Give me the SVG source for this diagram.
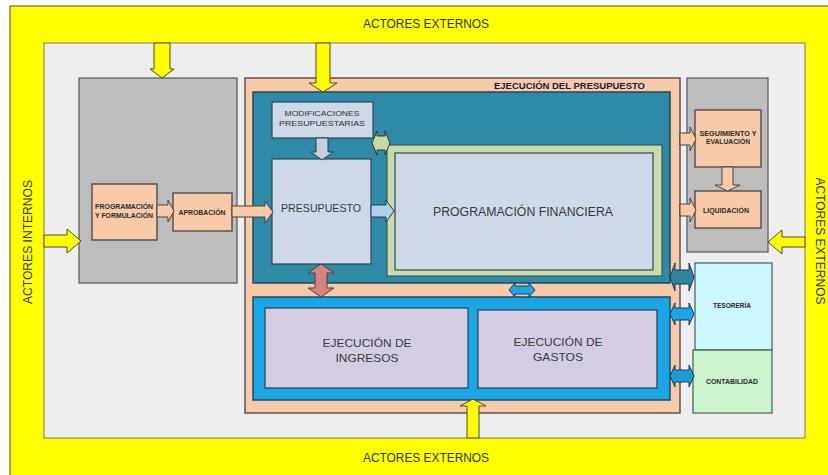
<svg xmlns="http://www.w3.org/2000/svg" width="828" height="475" viewBox="0 0 828 475">
  <style>
    text { font-family: "Liberation Sans", Arial, sans-serif; }
    .frame { fill: #ffff00; stroke: #6e6e2c; stroke-width: 1.2; }
    .field { fill: #eeeeee; stroke: #7a7a50; stroke-width: 1; }
    .panel { fill: #bdbdbd; stroke: #555555; stroke-width: 1.2; }
    .peach { fill: #f9caa8; stroke: #555555; stroke-width: 1.5; }
    .teal { fill: #2f8aa7; stroke: #1f4a5a; stroke-width: 1.5; }
    .light { fill: #ced8e6; stroke: #2a4a5a; stroke-width: 1.2; }
    .sage { fill: #cbdaa9; stroke: #3a5a50; stroke-width: 1.2; }
    .blue { fill: #1aa6e4; stroke: #1f4a6a; stroke-width: 1.5; }
    .lav { fill: #d4cde2; stroke: #2a3a5a; stroke-width: 1.2; }
    .box { fill: #f9caa8; stroke: #444444; stroke-width: 1.3; }
    .arr-y { fill: #ffff00; stroke: #4a4a2a; stroke-width: 1; }
    .arr-p { fill: #f9caa8; stroke: #444444; stroke-width: 1; }
    .lbl-big { font-size: 12px; fill: #3a3a3a; text-anchor: middle; }
    .lbl-mid { font-size: 11.5px; fill: #3a3a3a; text-anchor: middle; }
    .lbl-sm { font-size: 8px; fill: #333333; text-anchor: middle; }
    .lbl-xs { font-size: 6.5px; font-weight: bold; fill: #2a2a2a; text-anchor: middle; }
    .actor { font-size: 12px; fill: #333333; text-anchor: middle; }
  </style>

  <!-- background -->
  <rect x="0" y="0" width="828" height="475" fill="#ffffff"/>

  <!-- actors frame -->
  <g id="actores">
    <rect class="frame" x="10" y="6" width="830" height="480"/>
    <rect class="field" x="44" y="43" width="761" height="395"/>
    <text class="actor" x="426" y="28" textLength="126" lengthAdjust="spacingAndGlyphs">ACTORES EXTERNOS</text>
    <text class="actor" x="426" y="462" textLength="126" lengthAdjust="spacingAndGlyphs">ACTORES EXTERNOS</text>
    <text class="actor" transform="translate(31.5,242) rotate(-90)" textLength="124" lengthAdjust="spacingAndGlyphs">ACTORES INTERNOS</text>
    <text class="actor" transform="translate(816,241) rotate(90)" textLength="127" lengthAdjust="spacingAndGlyphs">ACTORES EXTERNOS</text>
  </g>

  <!-- left panel: programming and approval -->
  <g id="panel-izquierdo">
    <rect class="panel" x="79" y="78" width="158" height="205"/>
  </g>
  <g id="programacion-formulacion">
    <rect class="box" x="92" y="184" width="65" height="56"/>
    <text class="lbl-xs" x="124" y="208.5" textLength="58" lengthAdjust="spacingAndGlyphs">PROGRAMACIÓN</text>
    <text class="lbl-xs" x="124" y="217.5" textLength="58" lengthAdjust="spacingAndGlyphs">Y FORMULACIÓN</text>
  </g>
  <g id="aprobacion">
    <rect class="box" x="173" y="193" width="59" height="38"/>
    <text class="lbl-xs" x="202" y="214.5" textLength="47" lengthAdjust="spacingAndGlyphs">APROBACIÓN</text>
  </g>

  <!-- budget execution -->
  <g id="ejecucion-presupuesto">
    <rect class="peach" x="245" y="78" width="435" height="335"/>
    <text x="645" y="89" font-size="8.5" font-weight="bold" fill="#1c1c3c" text-anchor="end" textLength="151" lengthAdjust="spacingAndGlyphs">EJECUCIÓN DEL PRESUPUESTO</text>
  </g>
  <g id="planificacion">
    <rect class="teal" x="253" y="92" width="417" height="191"/>
  </g>
  <g id="modificaciones">
    <rect class="light" x="272" y="102" width="101" height="36"/>
    <text class="lbl-sm" x="322" y="116" textLength="75" lengthAdjust="spacingAndGlyphs">MODIFICACIONES</text>
    <text class="lbl-sm" x="322" y="126" textLength="86" lengthAdjust="spacingAndGlyphs">PRESUPUESTARIAS</text>
  </g>
  <g id="presupuesto">
    <rect class="light" x="272" y="159" width="99" height="105"/>
    <text class="lbl-mid" x="321" y="211.5" font-size="11" textLength="80" lengthAdjust="spacingAndGlyphs">PRESUPUESTO</text>
  </g>
  <g id="programacion-financiera">
    <rect class="sage" x="387" y="145" width="275" height="131"/>
    <rect class="light" x="395" y="153" width="258" height="117"/>
    <text class="lbl-big" x="523" y="216" textLength="180" lengthAdjust="spacingAndGlyphs">PROGRAMACIÓN FINANCIERA</text>
  </g>
  <g id="ejecucion">
    <rect class="blue" x="253" y="297" width="417" height="103"/>
  </g>
  <g id="ejecucion-ingresos">
    <rect class="lav" x="265" y="308" width="203" height="80"/>
    <text class="lbl-mid" x="367" y="347" textLength="89" lengthAdjust="spacingAndGlyphs">EJECUCIÓN DE</text>
    <text class="lbl-mid" x="367" y="362" textLength="63" lengthAdjust="spacingAndGlyphs">INGRESOS</text>
  </g>
  <g id="ejecucion-gastos">
    <rect class="lav" x="478" y="310" width="179" height="78"/>
    <text class="lbl-mid" x="558" y="346" textLength="89" lengthAdjust="spacingAndGlyphs">EJECUCIÓN DE</text>
    <text class="lbl-mid" x="558" y="361" textLength="50" lengthAdjust="spacingAndGlyphs">GASTOS</text>
  </g>

  <!-- right panel: control -->
  <g id="panel-derecho">
    <rect class="panel" x="687" y="78" width="81" height="174"/>
  </g>
  <g id="seguimiento">
    <rect class="box" x="695" y="110" width="66" height="57"/>
    <text class="lbl-xs" x="728" y="136" textLength="57" lengthAdjust="spacingAndGlyphs">SEGUIMIENTO Y</text>
    <text class="lbl-xs" x="728" y="144" textLength="44" lengthAdjust="spacingAndGlyphs">EVALUACIÓN</text>
  </g>
  <g id="liquidacion">
    <rect class="box" x="695" y="191" width="66" height="37"/>
    <text class="lbl-xs" x="726" y="212.5" textLength="46" lengthAdjust="spacingAndGlyphs">LIQUIDACIÓN</text>
  </g>
  <g id="tesoreria">
    <rect x="695" y="263" width="77" height="87" fill="#ccf8ff" stroke="#4a5a60" stroke-width="1.2"/>
    <text class="lbl-xs" x="732" y="307.5" textLength="38" lengthAdjust="spacingAndGlyphs">TESORERÍA</text>
  </g>
  <g id="contabilidad">
    <rect x="693" y="350" width="79" height="63" fill="#cdf5cd" stroke="#4a5a50" stroke-width="1.2"/>
    <text class="lbl-xs" x="732" y="383.5" textLength="52" lengthAdjust="spacingAndGlyphs">CONTABILIDAD</text>
  </g>

  <!-- connectors -->
  <g id="conectores">
    <!-- actors -->
    <polygon class="arr-y" points="154,43 170,43 170,69 174,69 162,78 150,69 154,69"/>
    <polygon class="arr-y" points="316,43 330,43 330,83 337,83 323,92 309,83 316,83"/>
    <polygon class="arr-y" points="44,235 67,235 67,229 81,241 67,253 67,247 44,247"/>
    <polygon class="arr-y" points="805,237 782,237 782,230 768,242 782,254 782,247 805,247"/>
    <polygon class="arr-y" points="467,438 479,438 479,406 486,406 473,399 460,406 467,406"/>
    <!-- approval chain -->
    <polygon class="arr-p" points="157,205 168,205 168,200 174,211 168,222 168,217 157,217"/>
    <polygon class="arr-p" points="232,206 265,206 265,201 273,212 265,223 265,217 232,217"/>
    <!-- budget -->
    <polygon points="316,138 328,138 328,152 333,152 322,160 311,152 316,152" fill="#c5cfdd" stroke="#2a3a4a" stroke-width="1"/>
    <polygon points="371,205 386,205 386,200 394,211 386,222 386,217 371,217" fill="#b0d0ee" stroke="#2a3a4a" stroke-width="1"/>
    <polygon points="372,143 377,131 377,136 385,136 385,131 390,143 385,155 385,150 377,150 377,155" fill="#c8d8a4" stroke="#2a3a2a" stroke-width="1"/>
    <polygon points="321,264 334,273 327,273 327,288 334,288 321,297 308,288 315,288 315,273 308,273" fill="#d5857f" stroke="#5a3a3a" stroke-width="1"/>
    <polygon points="509,290 515,283 515,286 529,286 529,283 535,290 529,297 529,294 515,294 515,297" fill="#1aa6e4" stroke="#1f3a5a" stroke-width="1"/>
    <!-- control -->
    <polygon class="arr-p" points="680,133 690,133 690,127 696,139 690,151 690,145 680,145"/>
    <polygon class="arr-p" points="680,204 690,204 690,198 696,210 690,222 690,216 680,216"/>
    <polygon class="arr-p" points="722,167 733,167 733,185 740,185 727.5,191 715,185 722,185"/>
    <!-- treasury and accounting -->
    <polygon points="670,277 675,263 675,270 689,270 689,263 694,277 689,291 689,284 675,284 675,291" fill="#2f84a0" stroke="#1f3a4a" stroke-width="1"/>
    <polygon points="670,314 675,303 675,308 689,308 689,303 694,314 689,325 689,320 675,320 675,325" fill="#1aa6e4" stroke="#1f3a5a" stroke-width="1"/>
    <polygon points="670,376 675,365 675,370 689,370 689,365 694,376 689,387 689,382 675,382 675,387" fill="#1e9ad4" stroke="#1f3a5a" stroke-width="1"/>
  </g>
</svg>
